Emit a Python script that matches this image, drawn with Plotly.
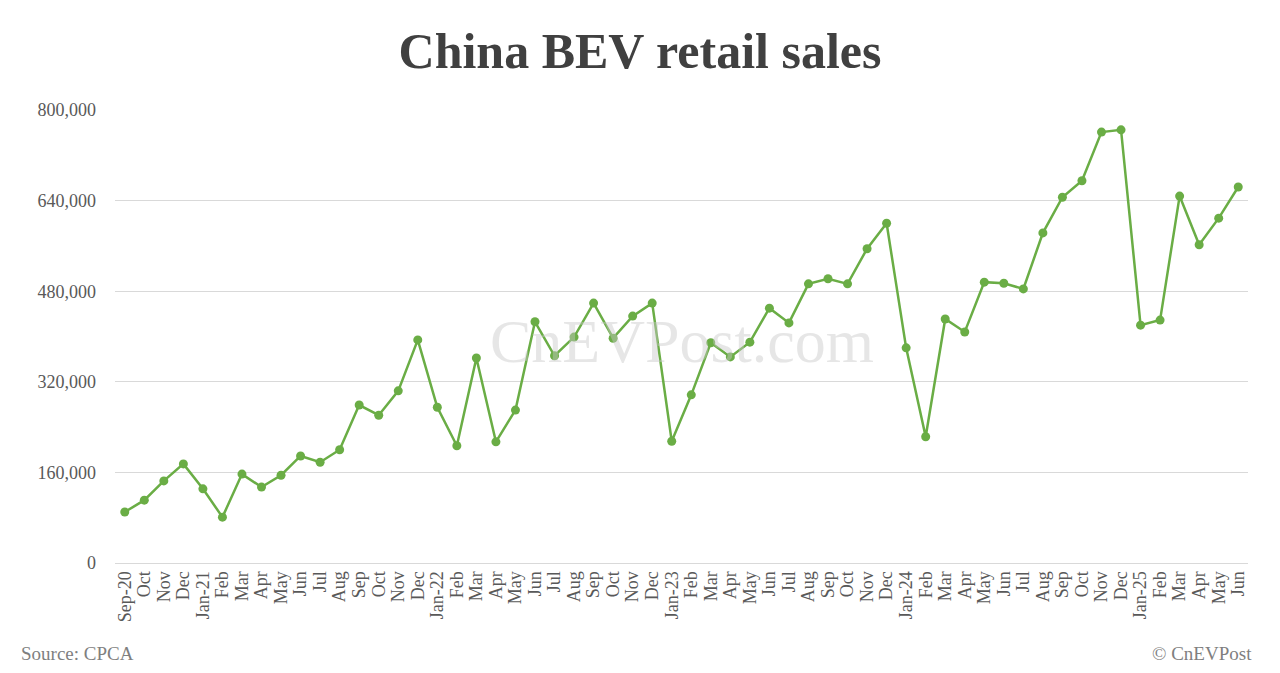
import plotly.graph_objects as go

labels = ["Sep-20","Oct","Nov","Dec","Jan-21","Feb","Mar","Apr","May","Jun","Jul","Aug","Sep","Oct","Nov","Dec",
          "Jan-22","Feb","Mar","Apr","May","Jun","Jul","Aug","Sep","Oct","Nov","Dec",
          "Jan-23","Feb","Mar","Apr","May","Jun","Jul","Aug","Sep","Oct","Nov","Dec",
          "Jan-24","Feb","Mar","Apr","May","Jun","Jul","Aug","Sep","Oct","Nov","Dec",
          "Jan-25","Feb","Mar","Apr","May","Jun"]
sales = [90000,111000,145000,175000,131000,81000,157000,134000,155000,189000,178000,200000,279000,261000,304000,394000,
         275000,207000,362000,214000,270000,426000,366000,399000,459000,397000,436000,459000,
         215000,297000,389000,364000,390000,450000,424000,493000,502000,493000,555000,600000,
         380000,223000,431000,408000,496000,494000,484000,583000,646000,675000,761000,765000,
         420000,429000,648000,562000,609000,664000]
yticks = [0,160000,320000,480000,640000,800000]

idx = list(range(len(labels)))
green = "#6aad45"
fig = go.Figure(go.Scatter(x=idx, y=sales, mode="lines+markers",
                           line=dict(color=green, width=2.5), marker=dict(color=green, size=9)))
font = "Liberation Serif"
fig.update_layout(
    autosize=True, plot_bgcolor="white", paper_bgcolor="white",
    margin=dict(l=107, r=24, t=102, b=102), showlegend=False,
    title=dict(text="<b>China BEV retail sales</b>", x=0.5, xanchor="center", y=0.935, yanchor="middle",
               font=dict(family=font, size=50, color="#404040")),
    font=dict(family=font, size=18, color="#595959"),
    xaxis=dict(tickmode="array", tickvals=idx, ticktext=labels, tickangle=-90, range=[-0.5, len(labels)-0.5],
               showgrid=False, showline=True, linecolor="#d9d9d9", ticks="", zeroline=False),
    yaxis=dict(tickmode="array", tickvals=yticks, ticktext=[f"{v:,}" for v in yticks], range=[0, 800000],
               showgrid=True, gridcolor="#d9d9d9", gridwidth=1.3, zeroline=False, ticks="", ticklabelstandoff=18),
    shapes=[dict(type="rect", xref="paper", yref="paper", x0=-112/1132, x1=1+28/1132, y0=-104/453, y1=1+106/453,
                 line=dict(color="#bfbfbf", width=1.5))],
    annotations=[
        dict(text="CnEVPost.com", xref="paper", yref="paper", x=0.5, y=0.49, showarrow=False,
             font=dict(family=font, size=62, color="rgba(200,200,200,0.45)")),
        dict(text="Source: CPCA", xref="paper", yref="paper", x=-0.085, y=-0.2, xanchor="left", yanchor="middle",
             showarrow=False, font=dict(family=font, size=19, color="#7f7f7f")),
        dict(text="© CnEVPost", xref="paper", yref="paper", x=1.005, y=-0.2, xanchor="right", yanchor="middle",
             showarrow=False, font=dict(family=font, size=19, color="#7f7f7f")),
    ],
)
fig.write_html("out.html", default_width="100%", default_height="100%")
